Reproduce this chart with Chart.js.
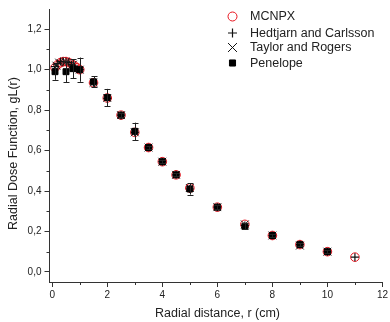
<!DOCTYPE html>
<html>
<head>
<meta charset="utf-8">
<script src="https://cdn.jsdelivr.net/npm/chart.js@4/dist/chart.umd.min.js"></script>
<style>
html,body{margin:0;padding:0;background:#fff;}
#wrap{width:390px;height:322px;position:relative;}
</style>
</head>
<body>
<div id="wrap"><canvas id="c" width="390" height="322"></canvas></div>
<script>
// ---- data ----
const mcnpxR = [0.1,0.2,0.3,0.4,0.5,0.6,0.7,0.8,0.9,1,1.5,2,2.5,3,3.5,4,4.5,5,6,7,8,9,10,11];
const mcnpxG = [1.01,1.025,1.035,1.04,1.04,1.035,1.03,1.02,1.01,1.0,0.935,0.86,0.775,0.69,0.615,0.545,0.48,0.415,0.32,0.235,0.18,0.135,0.1,0.073];
const hedR = [0.1,0.2,0.3,0.4,0.5,0.6,0.7,0.8,0.9,1,1.5,2,2.5,3,3.5,4,4.5,5,6,7,8,9,10,11];
const hedG = [1.015,1.03,1.04,1.04,1.04,1.035,1.025,1.015,1.005,1.0,0.935,0.858,0.775,0.69,0.615,0.545,0.48,0.41,0.32,0.23,0.18,0.135,0.1,0.073];
const taylorR = [0.15,0.25,0.5,0.75,1,1.5,2,2.5,3,3.5,4,4.5,5,6,7,8,9,10];
const taylorG = [1.02,1.035,1.04,1.025,1.0,0.935,0.86,0.775,0.69,0.615,0.545,0.48,0.415,0.32,0.235,0.18,0.13,0.1];
const penR = [0.1,0.5,0.75,1,1.5,2,2.5,3,3.5,4,4.5,5,6,7,8,9,10];
const penG = [0.99,0.99,1.005,1.0,0.94,0.862,0.775,0.695,0.615,0.545,0.48,0.41,0.32,0.225,0.18,0.135,0.1];
const penErr = [0.04,0.053,0.047,0.06,0.028,0.043,0.01,0.043,0.008,0.008,0.008,0.028,0.01,0.015,0.008,0.008,0.008];
const xTicks = [0,2,4,6,8,10,12];
const xMinor = [1,3,5,7,9,11];
const yTicks = [0,0.2,0.4,0.6,0.8,1.0,1.2];
const yMinor = [0.1,0.3,0.5,0.7,0.9,1.1];
const seriesNames = ['MCNPX','Hedtjarn and Carlsson','Taylor and Rogers','Penelope'];
const xTitle = 'Radial distance, r (cm)';
const yTitle = 'Radial Dose Function, gL(r)';

const pts = (xs, ys) => xs.map((x,i)=>({x:x, y:ys[i]}));
const FONT = '"Liberation Sans", Arial, sans-serif';
const AXIS = '#333';
const TXT = '#222';

const errPlugin = {
  id:'errbars',
  afterDatasetsDraw(chart){
    const ctx = chart.ctx, xs = chart.scales.x, ys = chart.scales.y;
    ctx.save();
    ctx.strokeStyle = '#222'; ctx.lineWidth = 1;
    penR.forEach((r,i)=>{
      const px = Math.round(xs.getPixelForValue(r))+0.5;
      const y1 = ys.getPixelForValue(penG[i]+penErr[i]);
      const y2 = ys.getPixelForValue(penG[i]-penErr[i]);
      ctx.beginPath();
      ctx.moveTo(px,y1); ctx.lineTo(px,y2);
      ctx.moveTo(px-3,Math.round(y1)+0.5); ctx.lineTo(px+3,Math.round(y1)+0.5);
      ctx.moveTo(px-3,Math.round(y2)+0.5); ctx.lineTo(px+3,Math.round(y2)+0.5);
      ctx.stroke();
    });
    ctx.restore();
  }
};

const decoPlugin = {
  id:'deco',
  afterDraw(chart){
    const ctx = chart.ctx, xs = chart.scales.x, ys = chart.scales.y, ca = chart.chartArea;
    ctx.save();
    ctx.strokeStyle = AXIS; ctx.lineWidth = 1;
    // minor ticks
    ctx.beginPath();
    xMinor.forEach(v=>{ const p = Math.round(xs.getPixelForValue(v))+0.5; ctx.moveTo(p,ca.bottom); ctx.lineTo(p,ca.bottom+3); });
    yMinor.forEach(v=>{ const p = Math.round(ys.getPixelForValue(v))+0.5; ctx.moveTo(ca.left,p); ctx.lineTo(ca.left-3,p); });
    ctx.stroke();
    // axis titles
    ctx.fillStyle = TXT;
    ctx.font = '12.5px ' + FONT;
    ctx.textAlign = 'center'; ctx.textBaseline = 'middle';
    ctx.fillText(xTitle, 217.5, 314);
    ctx.save();
    ctx.translate(14, 153.5); ctx.rotate(-Math.PI/2);
    ctx.fillText(yTitle, 0, 0);
    ctx.restore();
    // legend
    const lx = 232.5, ly = [16.5,33,47.5,63];
    chart.data.datasets.forEach((ds,i)=>{
      const o = {pointStyle: ds.pointStyle, radius: ds.legendRadius, borderWidth: ds.borderWidth, rotation:0};
      ctx.strokeStyle = ds.borderColor; ctx.fillStyle = ds.backgroundColor; ctx.lineWidth = ds.borderWidth;
      Chart.helpers.drawPoint(ctx, o, lx, ly[i]);
      ctx.fillStyle = TXT;
      ctx.textAlign = 'left'; ctx.textBaseline = 'middle';
      ctx.fillText(seriesNames[i], 250, ly[i]+0.5);
    });
    ctx.restore();
  }
};

new Chart(document.getElementById('c'), {
  type:'scatter',
  data:{ datasets:[
    {label:seriesNames[0], data:pts(mcnpxR,mcnpxG), pointStyle:'circle', radius:4.3, legendRadius:4.5, borderColor:'#e8141e', backgroundColor:'rgba(0,0,0,0)', borderWidth:1, order:3},
    {label:seriesNames[1], data:pts(hedR,hedG), pointStyle:'cross', radius:4, legendRadius:4.5, borderColor:'#111', backgroundColor:'#111', borderWidth:1.2, order:2},
    {label:seriesNames[2], data:pts(taylorR,taylorG), pointStyle:'crossRot', radius:5.5, legendRadius:6.3, borderColor:'#111', backgroundColor:'#111', borderWidth:1, order:1},
    {label:seriesNames[3], data:pts(penR,penG), pointStyle:'rect', radius:4.2, legendRadius:4.3, borderColor:'#000', backgroundColor:'#000', borderWidth:1, order:0}
  ]},
  options:{
    responsive:false, animation:false, devicePixelRatio:1,
    layout:{ padding:{top:7, right:2, left:0, bottom:0}, autoPadding:false },
    plugins:{ legend:{display:false}, tooltip:{enabled:false} },
    elements:{ point:{ hoverRadius:5 } },
    scales:{
      x:{
        type:'linear', min:-0.1, max:12,
        afterFit(s){ s.height = 40; },
        afterBuildTicks(s){ s.ticks = xTicks.map(v=>({value:v})); },
        grid:{ drawOnChartArea:false, drawTicks:true, tickLength:5, color:AXIS, tickColor:AXIS },
        border:{ display:true, color:AXIS, width:1 },
        ticks:{ font:{family:FONT, size:10}, color:TXT, padding:2, maxRotation:0, callback:v=>String(v) }
      },
      y:{
        type:'linear', min:-0.05, max:1.3,
        afterFit(s){ s.width = 49.5; },
        afterBuildTicks(s){ s.ticks = yTicks.map(v=>({value:v})); },
        grid:{ drawOnChartArea:false, drawTicks:true, tickLength:5, color:AXIS, tickColor:AXIS },
        border:{ display:true, color:AXIS, width:1 },
        ticks:{ font:{family:FONT, size:10}, color:TXT, padding:3, callback:v=>v.toFixed(1).replace('.',',') }
      }
    }
  },
  plugins:[errPlugin, decoPlugin]
});
</script>
</body>
</html>
